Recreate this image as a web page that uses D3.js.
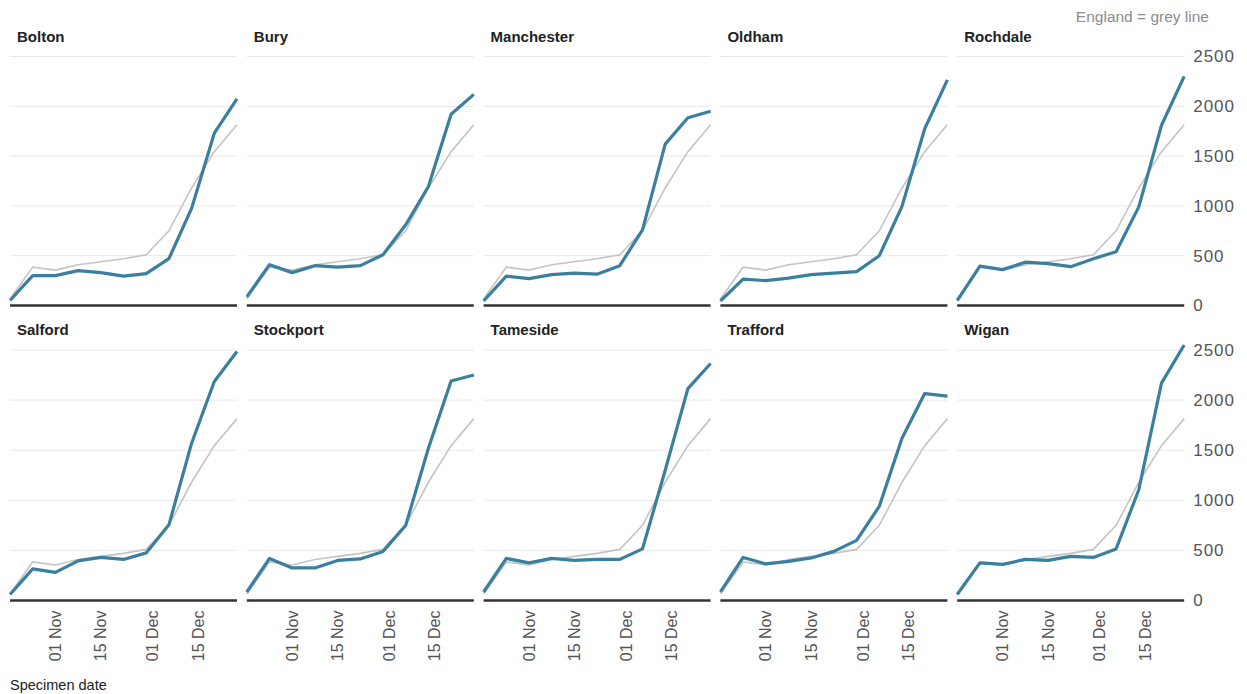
<!DOCTYPE html>
<html>
<head>
<meta charset="utf-8">
<script src="https://cdn.jsdelivr.net/npm/d3@7"></script>
<style>
  body { margin: 0; background: #fff; }
  svg { font-family: "Liberation Sans", Arial, sans-serif; }
</style>
</head>
<body>
<svg id="chart" width="1247" height="694"></svg>
<script>
// weekly specimen dates
const dates = ["2020-10-18", "2020-10-25", "2020-11-01", "2020-11-08", "2020-11-15", "2020-11-22",
               "2020-11-29", "2020-12-06", "2020-12-13", "2020-12-20", "2020-12-27"];
const tickDates = ["2020-11-01", "2020-11-15", "2020-12-01", "2020-12-15"];
const yTicks = [0, 500, 1000, 1500, 2000, 2500];

// England, drawn grey in every panel
const england = [65, 385, 355, 410, 440, 470, 510, 750, 1180, 1545, 1815];

const areas = ["Bolton", "Bury", "Manchester", "Oldham", "Rochdale",
               "Salford", "Stockport", "Tameside", "Trafford", "Wigan"];

const bolton     = [50, 300, 300, 350, 330, 295, 320, 470, 975, 1730, 2075];
const bury       = [87, 410, 330, 400, 385, 400, 510, 810, 1195, 1920, 2120];
const manchester = [45, 295, 270, 310, 325, 315, 400, 760, 1620, 1885, 1950];
const oldham     = [45, 265, 250, 275, 310, 325, 340, 500, 995, 1775, 2265];
const rochdale   = [50, 395, 360, 435, 420, 390, 470, 540, 990, 1810, 2300];
const salford    = [60, 315, 280, 395, 430, 410, 475, 755, 1570, 2185, 2485];
const stockport  = [85, 420, 325, 325, 400, 415, 490, 750, 1520, 2190, 2250];
const tameside   = [85, 420, 375, 420, 400, 410, 410, 515, 1300, 2115, 2365];
const trafford   = [85, 430, 365, 390, 425, 490, 600, 940, 1620, 2065, 2040];
const wigan      = [60, 375, 360, 410, 400, 440, 430, 515, 1105, 2170, 2550];

const areaValues = [bolton, bury, manchester, oldham, rochdale,
                    salford, stockport, tameside, trafford, wigan];

const parse = d3.timeParse("%Y-%m-%d");
const svg = d3.select("#chart");

// panel layout
const panelW = 227;
const colStep = 236.8;
const left0 = 10;
const rows = [{ top: 56.5, bottom: 305.5 }, { top: 350, bottom: 600.5 }];

const x = d3.scaleTime()
    .domain([parse(dates[0]), parse(dates[dates.length - 1])])
    .range([0, panelW]);

const line = d3.line()
    .x(d => x(d.date))
    .y(d => d.y);

// legend note
svg.append("text")
    .attr("x", 1209)
    .attr("y", 22)
    .attr("text-anchor", "end")
    .attr("font-size", 15.5)
    .attr("fill", "#8c8c8c")
    .text("England = grey line");

areas.forEach((name, i) => {
  const row = rows[Math.floor(i / 5)];
  const col = i % 5;
  const y = d3.scaleLinear().domain([0, 2500]).range([row.bottom, row.top]);
  const g = svg.append("g").attr("transform", `translate(${left0 + col * colStep},0)`);

  // gridlines
  g.selectAll(".grid")
      .data(yTicks.slice(1))
      .enter()
      .append("line")
      .attr("x1", 0)
      .attr("x2", panelW)
      .attr("y1", d => y(d))
      .attr("y2", d => y(d))
      .attr("stroke", "#e8e8e8")
      .attr("stroke-width", 1);

  // title
  g.append("text")
      .attr("x", 7)
      .attr("y", row.top - 15)
      .attr("font-size", 15)
      .attr("font-weight", "bold")
      .attr("fill", "#222")
      .text(name);

  const engPts = dates.map((d, k) => ({ date: parse(d), y: y(england[k]) }));
  const areaPts = dates.map((d, k) => ({ date: parse(d), y: y(areaValues[i][k]) }));

  g.append("path")
      .attr("d", line(engPts))
      .attr("fill", "none")
      .attr("stroke", "#c4c4c4")
      .attr("stroke-width", 1.6);

  g.append("path")
      .attr("d", line(areaPts))
      .attr("fill", "none")
      .attr("stroke", "#3a7f9d")
      .attr("stroke-width", 3.2)
      .attr("stroke-linejoin", "round");

  // zero axis line
  g.append("line")
      .attr("x1", 0)
      .attr("x2", panelW)
      .attr("y1", y(0))
      .attr("y2", y(0))
      .attr("stroke", "#333")
      .attr("stroke-width", 2.5);

  // x tick labels on bottom row only
  if (i >= 5) {
    g.selectAll(".xlab")
        .data(tickDates)
        .enter()
        .append("text")
        .attr("transform", d => `translate(${x(parse(d))},${row.bottom + 10}) rotate(-90)`)
        .attr("text-anchor", "end")
        .attr("dy", "0.35em")
        .attr("font-size", 16)
        .attr("fill", "#555")
        .text(d => d3.timeFormat("%d %b")(parse(d)));
  }

  // right axis on last column
  if (col === 4) {
    const ax = g.append("g")
        .attr("transform", `translate(${panelW},0)`)
        .call(d3.axisRight(y).tickValues(yTicks).tickSize(0).tickPadding(9).tickFormat(d3.format("d")));
    ax.select(".domain").remove();
    ax.selectAll("text")
        .attr("font-size", 17)
        .attr("letter-spacing", "1px")
        .attr("fill", "#555")
        .attr("font-family", "Liberation Sans, Arial, sans-serif");
  }
});

svg.append("text")
    .attr("x", 10)
    .attr("y", 690)
    .attr("font-size", 14.5)
    .attr("fill", "#222")
    .text("Specimen date");
</script>
</body>
</html>
